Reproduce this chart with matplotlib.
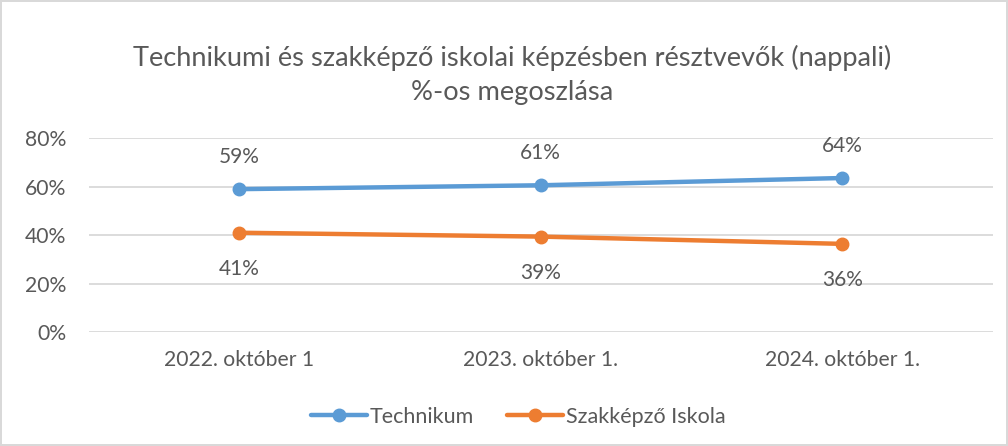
import matplotlib
matplotlib.use("Agg")
import matplotlib.pyplot as plt
from matplotlib.ticker import FuncFormatter

plt.rcParams['font.family'] = ['Lato', 'DejaVu Sans']

categories = ["2022. október 1", "2023. október 1.", "2024. október 1."]
technikum = [59.0, 60.6, 63.6]
szakkepzo = [41.0, 39.4, 36.4]
series_names = ["Technikum", "Szakképző Iskola"]
title = "Technikumi és szakképző iskolai képzésben résztvevők (nappali)\n%-os megoszlása"
yticks = [0, 20, 40, 60, 80]

blue = "#5B9BD5"
orange = "#ED7D31"
txt = "#595959"

fig = plt.figure(figsize=(10.08, 4.46), dpi=100)
fig.patch.set_edgecolor("#D9D9D9")
fig.patch.set_linewidth(1.5)
ax = fig.add_axes([0.088, 0.2556, 0.897, 0.4343])

x = list(range(len(categories)))
ax.plot(x, technikum, color=blue, lw=3.2, marker='o', ms=9, label=series_names[0], solid_capstyle='round')
ax.plot(x, szakkepzo, color=orange, lw=3.2, marker='o', ms=9, label=series_names[1], solid_capstyle='round')

for xi, v in zip(x, technikum):
    ax.annotate(f"{v:.0f}%", (xi, v), xytext=(0, 23), textcoords='offset points',
                ha='center', va='center', fontsize=15, color=txt)
for xi, v in zip(x, szakkepzo):
    ax.annotate(f"{v:.0f}%", (xi, v), xytext=(0, -26), textcoords='offset points',
                ha='center', va='center', fontsize=15, color=txt)

ax.set_xlim(-0.5, 2.5)
ax.set_ylim(0, 80)
ax.set_yticks(yticks)
ax.yaxis.set_major_formatter(FuncFormatter(lambda v, p: f"{v:.0f}%"))
ax.set_xticks(x)
ax.set_xticklabels(categories)
ax.grid(axis='y', color="#D9D9D9", lw=1.3)
ax.set_axisbelow(True)
for s in ax.spines.values():
    s.set_visible(False)
ax.tick_params(axis='both', length=0, colors=txt, labelsize=15.2)
ax.tick_params(axis='x', pad=13)
ax.tick_params(axis='y', pad=16)

fig.text(0.508, 0.833, title, ha='center', va='center', fontsize=19.6, color=txt, linespacing=1.45)

fig.legend(loc='center', bbox_to_anchor=(0.514, 0.065), ncol=2, frameon=False,
           fontsize=15.5, labelcolor=txt, handlelength=2.6, columnspacing=1.5, handletextpad=0.15)

fig.savefig("out.png", dpi=100)
